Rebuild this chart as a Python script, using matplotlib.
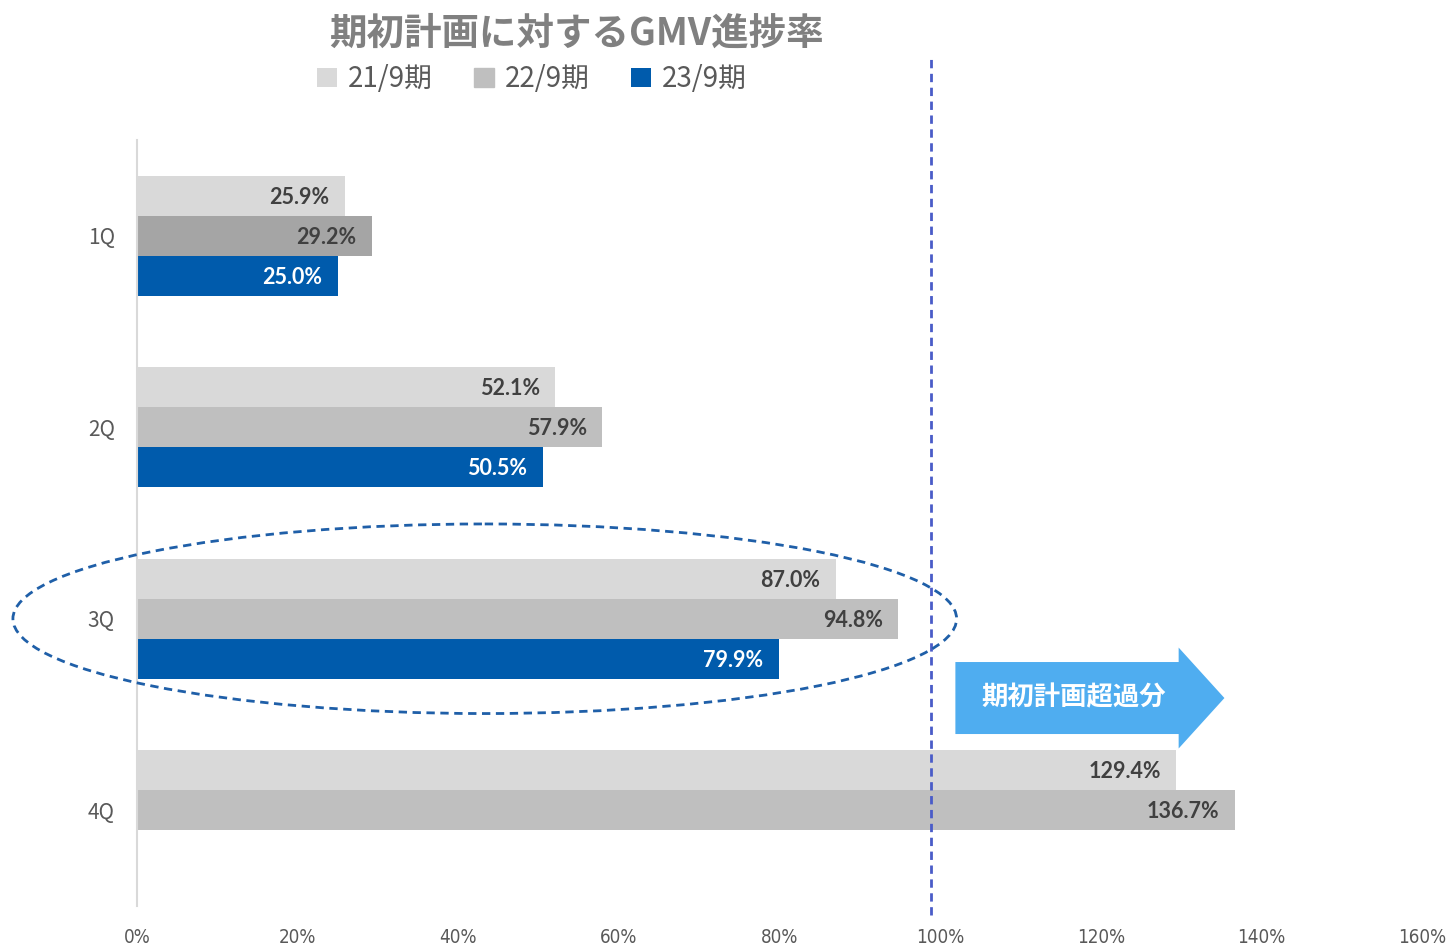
import numpy as np
import matplotlib.pyplot as plt
from matplotlib.patches import Ellipse, FancyArrow
import matplotlib.transforms as mtransforms

plt.rcParams['font.family'] = ['Lato', 'Noto Sans CJK JP', 'DejaVu Sans']

# データ
quarters = ['1Q', '2Q', '3Q', '4Q']
series = ['21/9期', '22/9期', '23/9期']
fy21 = [25.9, 52.1, 87.0, 129.4]
fy22 = [29.2, 57.9, 94.8, 136.7]
fy23 = [25.0, 50.5, 79.9, np.nan]
plan_line = 98.9

colors = ['#D9D9D9', '#BFBFBF', '#005BAC']
fy22_colors = ['#A5A5A5', '#BFBFBF', '#BFBFBF', '#BFBFBF']
label_colors = ['#404040', '#404040', '#FFFFFF']

fig = plt.figure(figsize=(14.55, 9.47), dpi=100)
ax = fig.add_axes([137 / 1455, 1 - 906 / 947, (1422 - 137) / 1455, (906 - 140) / 947])

y = np.arange(len(quarters))
h = 0.209
vals = [fy21, fy22, fy23]
for i, v in enumerate(vals):
    c = fy22_colors if i == 1 else colors[i]
    bars = ax.barh(y + (i - 1) * h, v, height=h, color=c, label=series[i])
    for b, val in zip(bars, v):
        if np.isnan(val):
            continue
        ax.annotate(f'{val:.1f}%', (val, b.get_y() + h / 2), xytext=(-11, -1),
                    textcoords='offset points', ha='right', va='center',
                    fontsize=15.5, fontweight='bold', color=label_colors[i])

ax.set_xlim(0, 160)
ax.set_ylim(3.5, -0.5)
ax.set_xticks(np.arange(0, 161, 20))
ax.set_xticklabels([f'{t}%' for t in range(0, 161, 20)], fontsize=13.5,
                   color='#595959', family='DejaVu Sans', fontstretch='condensed')
ax.set_yticks(y)
ax.set_yticklabels(quarters, fontsize=15, color='#595959', family='Noto Sans CJK JP')
ax.tick_params(length=0, axis='x', pad=16)
ax.tick_params(length=0, axis='y', pad=16)
for s in ['top', 'right', 'bottom']:
    ax.spines[s].set_visible(False)
ax.spines['left'].set_color('#D9D9D9')
ax.spines['left'].set_linewidth(1.5)

# 計画100%ライン
trans = mtransforms.blended_transform_factory(ax.transData, ax.transAxes)
ax.plot([plan_line, plan_line], [-0.012, 1.111], transform=trans, clip_on=False,
        color='#4A5CC8', lw=2, ls=(0, (3, 2)), zorder=5)

# 3Qを囲む楕円
ax.add_patch(Ellipse((43.3, 2), 117.5, 0.99, fill=False, ec='#1F5FA8',
                     lw=2, ls=(0, (3, 2)), clip_on=False, zorder=6))

# 矢印
ax.add_patch(FancyArrow(101.9, 2.414, 27.8, 0, width=0.376, head_width=0.527,
                        head_length=5.7, length_includes_head=False,
                        color='#4FADF0', ec='none', clip_on=False, zorder=6))
ax.text(116.6, 2.414, '期初計画超過分', color='white', fontsize=19, fontweight='bold',
        ha='center', va='center', family='Noto Sans CJK JP', zorder=7)

fig.text(576 / 1455, 1 - 33 / 947, '期初計画に対するGMV進捗率', ha='center', va='center',
         fontsize=27, fontweight='bold', color='#808080', family='Noto Sans CJK JP')

leg = fig.legend(*ax.get_legend_handles_labels(), loc='center', ncol=3,
                 bbox_to_anchor=(532 / 1455, 1 - 79 / 947), frameon=False,
                 handlelength=0.7, handleheight=0.7, handletextpad=0.4,
                 columnspacing=1.5, prop={'family': 'Noto Sans CJK JP', 'size': 20})
for t in leg.get_texts():
    t.set_color('#595959')
leg.legend_handles[1].set_color('#BFBFBF')

fig.savefig('out.png', dpi=100)
